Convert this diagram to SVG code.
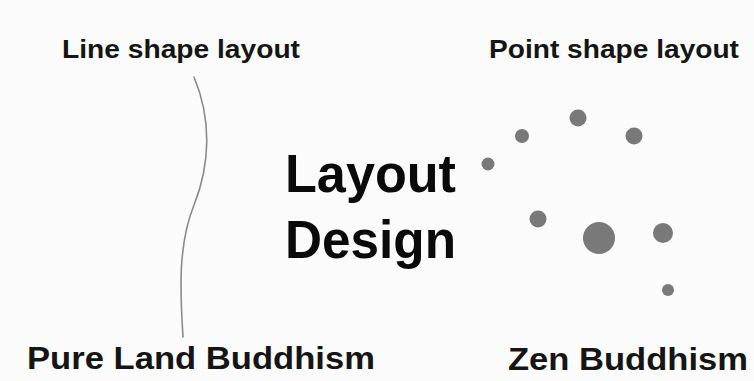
<svg xmlns="http://www.w3.org/2000/svg" width="754" height="381" viewBox="0 0 754 381">
  <style>
    .lbl { font-family: "Liberation Sans", Arial, sans-serif; font-weight: bold; fill: #151515; }
    .top { font-size: 26px; }
    .bot { font-size: 31px; }
    .mid { font-size: 53px; fill: #0a0a0a; }
    .dot { fill: #797979; }
    .curve { fill: none; stroke: #8a8a8a; stroke-width: 1.6; stroke-linecap: round; }
  </style>
  <rect width="754" height="381" fill="#fbfbfb"/>
  <g id="label-line">
    <text class="lbl top" x="62" y="58" textLength="238" lengthAdjust="spacingAndGlyphs">Line shape layout</text>
  </g>
  <g id="label-point">
    <text class="lbl top" x="489" y="58" textLength="250" lengthAdjust="spacingAndGlyphs">Point shape layout</text>
  </g>
  <g id="center-title">
    <text class="lbl mid" x="285" y="192" textLength="171" lengthAdjust="spacingAndGlyphs">Layout</text>
    <text class="lbl mid" x="285" y="258" textLength="171" lengthAdjust="spacingAndGlyphs">Design</text>
  </g>
  <g id="line-layout">
    <path class="curve" d="M194,77 C212,120 210,165 194,205 C178,245 180,290 183,337"/>
  </g>
  <g id="point-layout">
    <circle class="dot" cx="488" cy="164" r="6.5"/>
    <circle class="dot" cx="522" cy="136" r="7"/>
    <circle class="dot" cx="578" cy="118" r="8.5"/>
    <circle class="dot" cx="634" cy="136" r="8.5"/>
    <circle class="dot" cx="538" cy="219" r="8.5"/>
    <circle class="dot" cx="599" cy="238" r="16"/>
    <circle class="dot" cx="663" cy="233" r="10"/>
    <circle class="dot" cx="668" cy="290" r="6"/>
  </g>
  <g id="label-pure-land">
    <text class="lbl bot" x="27" y="369" textLength="348" lengthAdjust="spacingAndGlyphs">Pure Land Buddhism</text>
  </g>
  <g id="label-zen">
    <text class="lbl bot" x="508" y="370" textLength="240" lengthAdjust="spacingAndGlyphs">Zen Buddhism</text>
  </g>
</svg>
